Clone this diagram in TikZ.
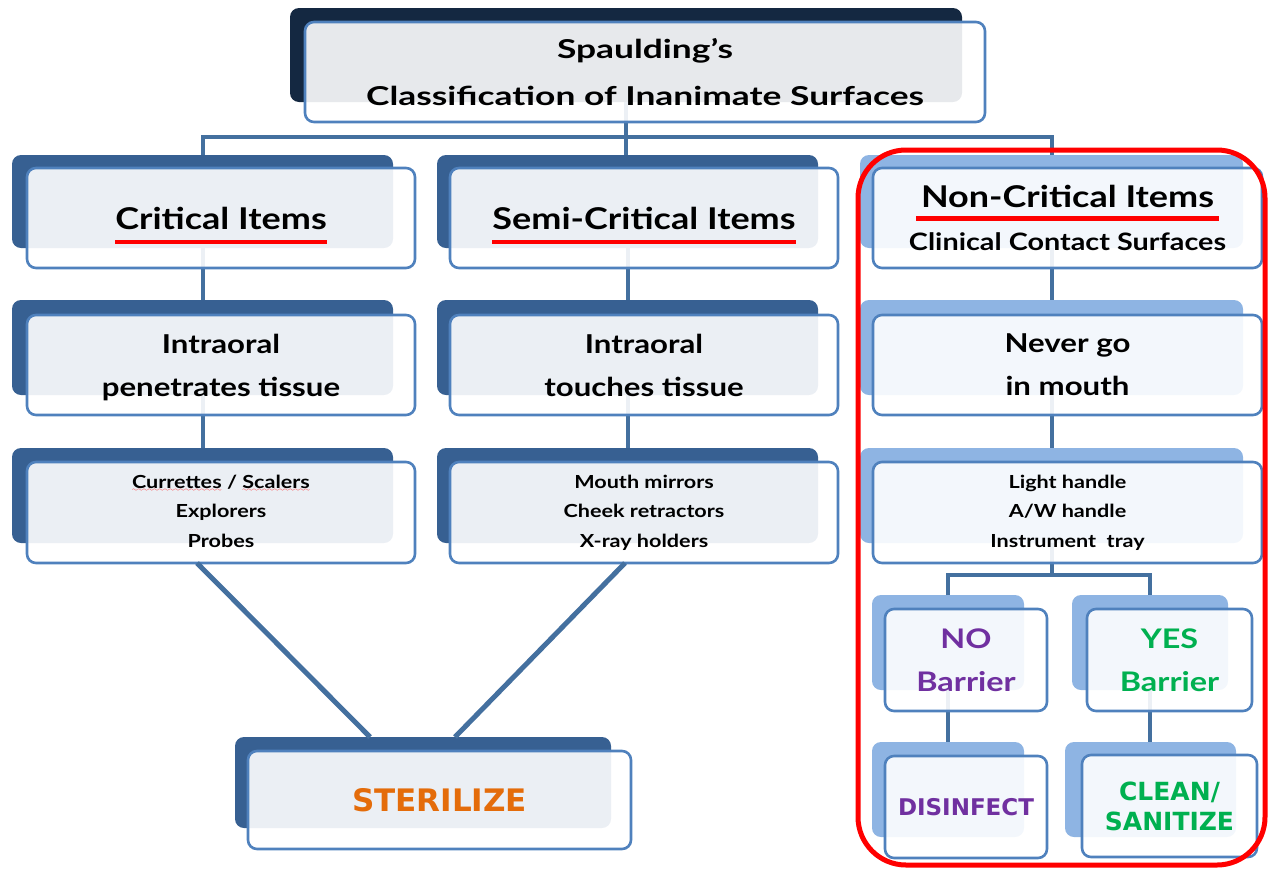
\documentclass[tikz,border=0pt]{standalone}
\usepackage{fontspec}
\setmainfont{Lato}[FakeStretch=1.2]
\newfontfamily\titlefont{Lato}[FakeStretch=1.36]
\newfontfamily\labelfont{DejaVu Sans}
\usepackage{xcolor}

\definecolor{navy}{HTML}{142841}
\definecolor{darkback}{HTML}{376092}
\definecolor{lightback}{HTML}{8EB4E3}
\definecolor{frontblue}{HTML}{4F81BD}
\definecolor{linkblue}{HTML}{44709F}
\definecolor{purpletxt}{HTML}{7030A0}
\definecolor{greentxt}{HTML}{00B050}
\definecolor{orangetxt}{HTML}{E46C0A}

\newlength\ulwd
\font\wavefont=lasy6
% thick red underline for the category headings
\newcommand\headul[3][0pt]{\settowidth\ulwd{#3}\addtolength\ulwd{2\dimexpr#1\relax}%
  \kern-#1\rlap{\smash{\textcolor{red}{\rule[-#2]{\ulwd}{4.5pt}}}}\kern#1#3}
% red spelling squiggle
\newcommand\spellwave[1]{\settowidth\ulwd{#1}%
  \rlap{\smash{\lower3pt\hbox to\ulwd{\color{red}\xleaders\hbox{\wavefont\char58}\hfil}}}#1}
% text whose descenders do not count for centring
\newcommand\nodepth[1]{\raisebox{0pt}[\height][0pt]{#1}}

\tikzset{
  backbox/.style={rounded corners=9pt, inner sep=0pt, outer sep=0pt},
  frontbox/.style={draw=frontblue, line width=2.6pt, rounded corners=9pt,
    fill=white, fill opacity=0.9, text opacity=1, align=center,
    inner sep=0pt, outer sep=0pt, text=black},
  link/.style={draw=linkblue, line width=4pt},
  hfont/.style={font=\bfseries\fontsize{30}{43}\selectfont},
  mfont/.style={font=\bfseries\fontsize{26}{43}\selectfont},
  sfont/.style={font=\bfseries\fontsize{18}{29.5}\selectfont},
}

\begin{document}
\begin{tikzpicture}[x=1pt,y=-1pt]
\useasboundingbox (0,0) rectangle (1268,868);

% ---------- back plates ----------
\node[backbox, fill=navy, minimum width=672, minimum height=94] (tB) at (626,55) {};

\node[backbox, fill=darkback, minimum width=381, minimum height=93] (c1B) at (202.5,201.5) {};
\node[backbox, fill=darkback, minimum width=381, minimum height=93] (s1B) at (627.5,201.5) {};
\node[backbox, fill=lightback, minimum width=383, minimum height=93] (n1B) at (1051.5,201.5) {};

\node[backbox, fill=darkback, minimum width=381, minimum height=95] (c2B) at (202.5,347.5) {};
\node[backbox, fill=darkback, minimum width=381, minimum height=95] (s2B) at (627.5,347.5) {};
\node[backbox, fill=lightback, minimum width=383, minimum height=95] (n2B) at (1051.5,347.5) {};

\node[backbox, fill=darkback, minimum width=381, minimum height=95] (c3B) at (202.5,495.5) {};
\node[backbox, fill=darkback, minimum width=381, minimum height=95] (s3B) at (627.5,495.5) {};
\node[backbox, fill=lightback, minimum width=383, minimum height=95] (n3B) at (1051.5,495.5) {};

\node[backbox, fill=darkback, minimum width=376, minimum height=91] (stB) at (423,782.5) {};

\node[backbox, fill=lightback, minimum width=152, minimum height=95] (noB) at (948,642.5) {};
\node[backbox, fill=lightback, minimum width=156, minimum height=95] (yesB) at (1150,642.5) {};
\node[backbox, fill=lightback, minimum width=152, minimum height=95] (disB) at (948,789.5) {};
\node[backbox, fill=lightback, minimum width=171, minimum height=95] (clB) at (1150.5,789.5) {};

% ---------- connectors ----------
\coordinate (bus) at (0,137);
\draw[link] (tB.south) -- (tB.south |- s1B.north);
\draw[link] (c1B.north) -- (c1B.north |- bus) -- (n1B.north |- bus) -- (n1B.north);

\draw[link] (c1B.south) -- (c2B.north);
\draw[link] (s1B.south) -- (s2B.north);
\draw[link] (n1B.south) -- (n2B.north);
\draw[link] (c2B.south) -- (c3B.north);
\draw[link] (s2B.south) -- (s3B.north);
\draw[link] (n2B.south) -- (n3B.north);

\coordinate (nbus) at (0,575);
\draw[link] (n3B.south) -- (n3B.south |- nbus);
\draw[link] (noB.north) -- (noB.north |- nbus) -- (yesB.north |- nbus) -- (yesB.north);
\draw[link] (noB.south) -- (disB.north);
\draw[link] (yesB.south) -- (yesB.south |- clB.north);

% ---------- front panels ----------
\node[frontbox, minimum width=680, minimum height=100,
  font=\titlefont\bfseries\fontsize{26}{47}\selectfont] (title) at (645,72)
  {Spaulding’s\\Classification of Inanimate Surfaces};

\node[frontbox, hfont, minimum width=388, minimum height=100] (c1F) at (221,218)
  {\headul{15pt}{Critical Items}};
\node[frontbox, hfont, minimum width=388, minimum height=100] (s1F) at (644,218)
  {\headul{15pt}{Semi-Critical Items}};
\node[frontbox, minimum width=389, minimum height=100,
  font=\bfseries\fontsize{24}{43}\selectfont] (n1F) at (1067.5,218)
  {{\fontsize{30}{43}\selectfont\headul[5pt]{13pt}{Non-Critical Items}}\\Clinical Contact Surfaces};

\node[frontbox, mfont, minimum width=388, minimum height=100] (c2F) at (221,365)
  {Intraoral\\\nodepth{penetrates tissue}};
\node[frontbox, mfont, minimum width=388, minimum height=100] (s2F) at (644,365)
  {Intraoral\\touches tissue};
\node[frontbox, mfont, minimum width=389, minimum height=100] (n2F) at (1067.5,365)
  {Never go\\in mouth};

\node[frontbox, sfont, minimum width=388, minimum height=101] (c3F) at (221,512.5)
  {\spellwave{Currettes} / \spellwave{Scalers}\\Explorers\\Probes\vphantom{p}};
\node[frontbox, sfont, minimum width=388, minimum height=101] (s3F) at (644,512.5)
  {Mouth mirrors\\Cheek retractors\\X-ray holders\vphantom{p}};
\node[frontbox, sfont, minimum width=389, minimum height=101] (n3F) at (1067.5,512.5)
  {Light handle\\A/W handle\\Instrument\ \ tray};

\node[frontbox, minimum width=383, minimum height=98, text=orangetxt,
  font=\labelfont\bfseries\fontsize{31}{36}\selectfont] (stF) at (439.5,800) {STERILIZE};

\node[frontbox, minimum width=162, minimum height=102, text=purpletxt,
  font=\bfseries\fontsize{27}{43}\selectfont] (noF) at (966,660) {NO\\Barrier};
\node[frontbox, minimum width=165, minimum height=102, text=greentxt,
  font=\bfseries\fontsize{27}{43}\selectfont] (yesF) at (1169.5,660) {YES\\Barrier};
\node[frontbox, minimum width=162, minimum height=102, text=purpletxt,
  font=\labelfont\bfseries\fontsize{23}{30}\selectfont] (disF) at (966,807) {DISINFECT};
\node[frontbox, minimum width=175, minimum height=102, text=greentxt,
  font=\labelfont\bfseries\fontsize{25}{30}\selectfont] (clF) at (1169.5,806) {CLEAN/\\SANITIZE};

% ---------- links into STERILIZE ----------
\draw[link, line width=5pt] ([xshift=-24pt]c3F.south) -- ([xshift=-53pt]stB.north);
\draw[link, line width=5pt] ([xshift=-19pt]s3F.south) -- ([xshift=32pt]stB.north);

% ---------- red frame round the non-critical branch ----------
\node[draw=red, line width=5pt, rounded corners=48pt, inner sep=0pt,
  minimum width=407, minimum height=715] (frame) at (1061.5,507.5) {};
\end{tikzpicture}
\end{document}
